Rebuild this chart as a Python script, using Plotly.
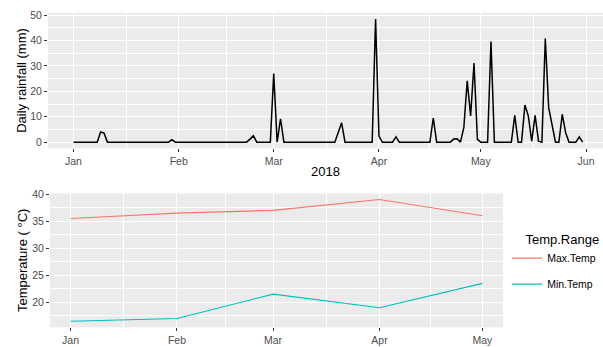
import pandas as pd
import plotly.graph_objects as go

# Daily rainfall 2018 (mm): days with rain; all other days are dry (0 mm)
rain_dates = [
    "2018-01-09", "2018-01-10", "2018-01-30", "2018-02-22", "2018-02-23",
    "2018-03-01", "2018-03-03", "2018-03-20", "2018-03-21", "2018-03-31",
    "2018-04-01", "2018-04-06", "2018-04-17", "2018-04-23", "2018-04-24",
    "2018-04-26", "2018-04-27", "2018-04-28", "2018-04-29", "2018-04-30",
    "2018-05-04", "2018-05-11", "2018-05-14", "2018-05-15", "2018-05-16",
    "2018-05-17", "2018-05-18", "2018-05-20", "2018-05-21", "2018-05-22",
    "2018-05-25", "2018-05-26", "2018-05-30",
]
rain_mm = [
    4.0, 3.6, 1.0, 1.2, 2.5,
    27.0, 9.2, 3.8, 7.6, 48.5,
    2.4, 2.1, 9.5, 1.2, 1.3,
    5.7, 24.1, 10.3, 31.1, 1.1,
    39.6, 10.5, 14.6, 10.3, 0.4,
    10.5, 0.4, 40.8, 13.6, 6.3,
    10.9, 3.7, 2.1,
]
period_start = "2018-01-01"
period_end = "2018-05-31"

# Monthly temperature range (°C)
temp_months = ["2018-01-01", "2018-02-01", "2018-03-01", "2018-04-01", "2018-05-01"]
max_temp = [35.5, 36.5, 37.0, 39.0, 36.0]
min_temp = [16.5, 17.0, 21.5, 19.0, 23.5]

month_labels = ["Jan", "Feb", "Mar", "Apr", "May", "Jun"]

# Full daily series
days = pd.date_range(period_start, period_end, freq="D")
rain = pd.Series(rain_mm, index=pd.to_datetime(rain_dates)).reindex(days, fill_value=0.0)

month_starts = pd.date_range("2018-01-01", "2018-06-01", freq="MS")
mid_months = [a + (b - a) / 2 for a, b in zip(month_starts[:-1], month_starts[1:])]

FONT = "Liberation Sans, Arial, sans-serif"
PANEL = "#EBEBEB"
TICK_FONT = dict(family=FONT, size=10.5, color="#4D4D4D")
TITLE_FONT = dict(family=FONT, size=13, color="black")

fig = go.Figure()

fig.add_trace(go.Scatter(
    x=rain.index, y=rain.values, mode="lines",
    line=dict(color="black", width=1.5),
    xaxis="x", yaxis="y", showlegend=False, hoverinfo="x+y",
))

fig.add_trace(go.Scatter(
    x=pd.to_datetime(temp_months), y=max_temp, mode="lines", name="Max.Temp",
    line=dict(color="#F8766D", width=1.1), xaxis="x2", yaxis="y2",
    legendgroup="max",
))
fig.add_trace(go.Scatter(
    x=pd.to_datetime(temp_months), y=min_temp, mode="lines", name="Min.Temp",
    line=dict(color="#00BFC4", width=1.1), xaxis="x2", yaxis="y2",
    legendgroup="min",
))

common_axis = dict(
    showline=False, zeroline=False, ticks="outside", ticklen=3,
    tickcolor="#333333", tickwidth=1, tickfont=TICK_FONT,
    showgrid=True, gridcolor="white", gridwidth=1.1, automargin=False,
)

fig.update_layout(
    template="none",
    width=603, height=347,
    margin=dict(l=0, r=0, t=0, b=0),
    paper_bgcolor="white",
    plot_bgcolor=PANEL,
    font=dict(family=FONT),
    xaxis=dict(
        **common_axis,
        domain=[0.0796, 1.0], anchor="y", type="date",
        range=["2017-12-24 12:00", "2018-06-06 00:00"],
        tickvals=month_starts, ticktext=month_labels,
        minor=dict(tickvals=mid_months, showgrid=True, gridcolor="white",
                   gridwidth=0.55, ticks=""),
        title=dict(text="2018", font=TITLE_FONT, standoff=0),
    ),
    yaxis=dict(
        **common_axis,
        domain=[0.5726, 0.9634], anchor="x",
        range=[-2.43, 50.95],
        tickvals=[0, 10, 20, 30, 40, 50],
        minor=dict(tickvals=[5, 15, 25, 35, 45], showgrid=True,
                   gridcolor="white", gridwidth=0.55, ticks=""),
        title=dict(text="Daily rainfall (mm)", font=TITLE_FONT, standoff=0.5),
    ),
    xaxis2=dict(
        **common_axis,
        domain=[0.0829, 0.8342], anchor="y2", type="date",
        range=["2017-12-26", "2018-05-07"],
        tickvals=month_starts[:5], ticktext=month_labels[:5],
        minor=dict(tickvals=mid_months[:4], showgrid=True, gridcolor="white",
                   gridwidth=0.55, ticks=""),
    ),
    yaxis2=dict(
        **common_axis,
        domain=[0.0568, 0.4424], anchor="x2",
        range=[15.375, 40.125],
        tickvals=[20, 25, 30, 35, 40],
        minor=dict(tickvals=[17.5, 22.5, 27.5, 32.5, 37.5], showgrid=True,
                   gridcolor="white", gridwidth=0.55, ticks=""),
        title=dict(text="Temperature ( °C)", font=TITLE_FONT, standoff=1.5),
    ),
    legend=dict(
        title=dict(text="Temp.Range", side="top right",
                   font=dict(family=FONT, size=13, color="black")),
        font=dict(family=FONT, size=10.5, color="black"),
        x=0.997, xanchor="right", y=0.243, yanchor="middle",
        bgcolor="rgba(0,0,0,0)", tracegroupgap=7,
        itemwidth=30,
    ),
)

# x-axis title of the lower panel sits at the bottom edge of the figure
fig.add_annotation(
    text="2018", xref="x2 domain", yref="paper", x=0.5, y=-0.0145,
    xanchor="center", yanchor="middle", showarrow=False, font=TITLE_FONT,
)

fig.write_html("out.html")
